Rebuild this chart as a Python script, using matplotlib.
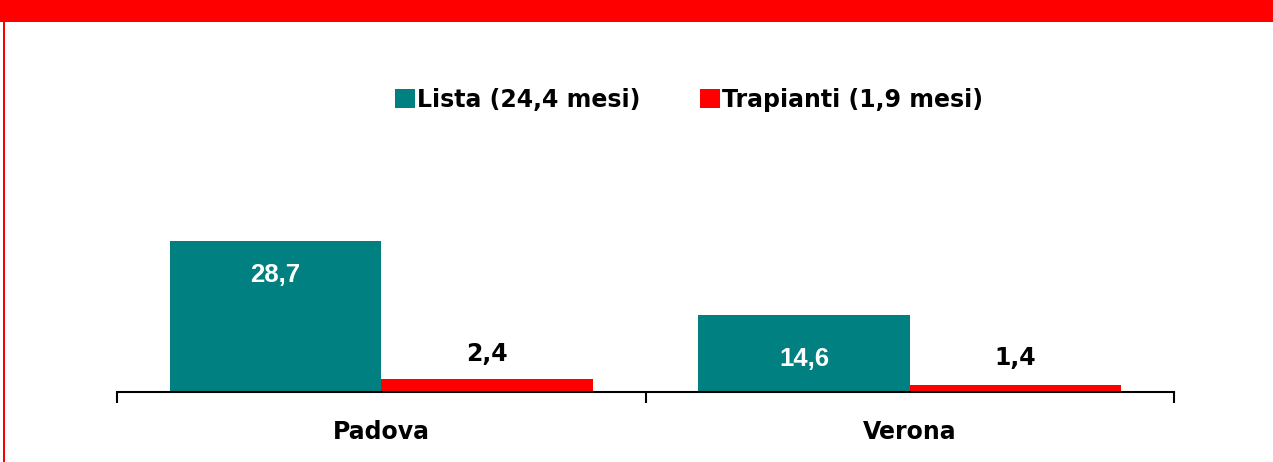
import matplotlib
matplotlib.use("Agg")
import matplotlib.pyplot as plt
from matplotlib.patches import Rectangle
import numpy as np

categories = ["Padova", "Verona"]
series_names = ["Lista (24,4 mesi)", "Trapianti (1,9 mesi)"]
lista = [28.7, 14.6]
trapianti = [2.4, 1.4]
lista_labels = ["28,7", "14,6"]
trapianti_labels = ["2,4", "1,4"]

TEAL = "#008080"
RED = "#FF0000"

fig = plt.figure(figsize=(12.73, 4.62), dpi=100)
fig.patch.set_facecolor("white")

# red frame: top band + left border
fig.patches.append(Rectangle((0, 1 - 22 / 462), 1, 22 / 462, transform=fig.transFigure,
                             facecolor=RED, edgecolor="none", zorder=0))
fig.patches.append(Rectangle((3 / 1273, 0), 2 / 1273, 1, transform=fig.transFigure,
                             facecolor=RED, edgecolor="none", zorder=0))

ax = fig.add_axes([117 / 1273, 70 / 462, 1057 / 1273, 184 / 462])
x = np.arange(len(categories))
w = 0.4
b1 = ax.bar(x - w / 2, lista, width=w, color=TEAL, label=series_names[0], zorder=2)
b2 = ax.bar(x + w / 2, trapianti, width=w, color=RED, label=series_names[1], zorder=2)

ax.set_xlim(-0.5, len(categories) - 0.5)
ax.set_ylim(0, 35)

for s in ["top", "right", "left"]:
    ax.spines[s].set_visible(False)
ax.spines["bottom"].set_linewidth(1.5)
ax.spines["bottom"].set_color("black")
ax.set_yticks([])
ax.set_xticks(np.arange(len(categories) + 1) - 0.5)
ax.set_xticklabels([])
ax.tick_params(axis="x", direction="out", length=8, width=1.5, color="black")

for i, c in enumerate(categories):
    ax.text(i, -0.215, c, transform=ax.get_xaxis_transform(), ha="center", va="center",
            fontsize=17, fontweight="bold", family="DejaVu Sans", color="black")

inner_offsets = [-34, -44]
for i, (v, lab) in enumerate(zip(lista, lista_labels)):
    ax.annotate(lab, (x[i] - w / 2, v), xytext=(0, inner_offsets[i] * 0.72),
                textcoords="offset points", ha="center", va="center",
                fontsize=18.5, fontweight="bold",
                family="Liberation Sans", color="white")
outer_offsets = [25, 27]
for i, (v, lab) in enumerate(zip(trapianti, trapianti_labels)):
    ax.annotate(lab, (x[i] + w / 2, v), xytext=(0, outer_offsets[i] * 0.72),
                textcoords="offset points", ha="center", va="center",
                fontsize=17, fontweight="bold", family="DejaVu Sans", color="black")

leg = fig.legend(handles=[b1, b2], labels=series_names, loc="center",
                 bbox_to_anchor=(689 / 1273, 1 - 100 / 462), ncol=2, frameon=False,
                 prop={"family": "DejaVu Sans", "weight": "bold", "size": 17},
                 handlelength=0.85, handleheight=0.85, handletextpad=0.1, columnspacing=2.5)

fig.savefig("out.png", dpi=100)
